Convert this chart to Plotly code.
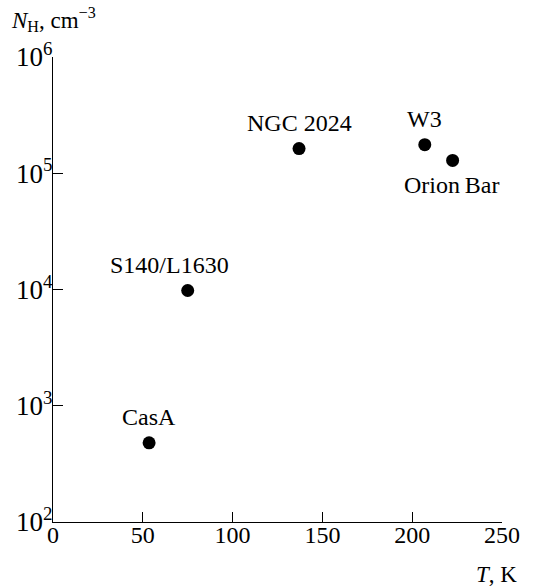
import numpy as np
import plotly.graph_objects as go

# Source temperatures and hydrogen densities
sources = ["CasA", "S140/L1630", "NGC 2024", "W3", "Orion\u2009Bar"]
temperature_K = [53.5, 75, 137, 207, 222.5]
density_cm3 = [480, 9800, 1.63e5, 1.76e5, 1.29e5]
label_above = [True, True, True, True, False]
label_dx = [0, -18, 0, 0, -1]

x_ticks = [0, 50, 100, 150, 200, 250]
y_ticks = [1e2, 1e3, 1e4, 1e5, 1e6]
y_tick_text = ["10<sup>2</sup>", "10<sup>3</sup>", "10<sup>4</sup>",
               "10<sup>5</sup>", "10<sup>6</sup>"]

FONT = "Liberation Serif"
FS = 24

fig = go.Figure()
fig.add_trace(go.Scatter(
    x=temperature_K, y=density_cm3, mode="markers",
    marker=dict(color="black", size=13),
    showlegend=False, hoverinfo="skip",
))

for name, t, n, above, dx in zip(sources, temperature_K, density_cm3,
                                 label_above, label_dx):
    fig.add_annotation(
        x=t, y=np.log10(n), xref="x", yref="y", text=name,
        showarrow=False, xshift=dx, yshift=26 if above else -25,
        font=dict(family=FONT, size=24, color="black"),
    )

fig.add_annotation(
    xref="paper", yref="paper", x=-44 / 449, y=1 + 37 / 464,
    xanchor="left", yanchor="middle", showarrow=False,
    text="<i>N</i><sub>H</sub>, cm<sup>\u22123</sup>",
    font=dict(family=FONT, size=23, color="black"),
)
fig.add_annotation(
    xref="paper", yref="paper", x=1 + 17 / 449, y=-52 / 464,
    xanchor="right", yanchor="middle", showarrow=False,
    text="<i>T</i>, K",
    font=dict(family=FONT, size=23, color="black"),
)

fig.update_layout(
    width=540, height=586,
    margin=dict(l=53, r=38, t=57, b=64),
    paper_bgcolor="white", plot_bgcolor="white",
    font=dict(family=FONT, size=FS, color="black"),
    xaxis=dict(
        range=[0, 250], tickvals=x_ticks, ticks="inside", ticklen=10,
        tickwidth=1.3, tickcolor="black", showline=True, linecolor="black",
        linewidth=1.3, showgrid=False, zeroline=False, mirror=False,
        ticklabelstandoff=-9,
    ),
    yaxis=dict(
        type="log", range=[2, 6], tickvals=y_ticks, ticktext=y_tick_text,
        tickfont=dict(family=FONT, size=27, color="black"),
        ticks="inside", ticklen=10, tickwidth=1.3, tickcolor="black",
        showline=True, linecolor="black", linewidth=1.3, showgrid=False,
        zeroline=False, mirror=False, ticklabelstandoff=-6,
    ),
)

fig.write_html("out.html")
